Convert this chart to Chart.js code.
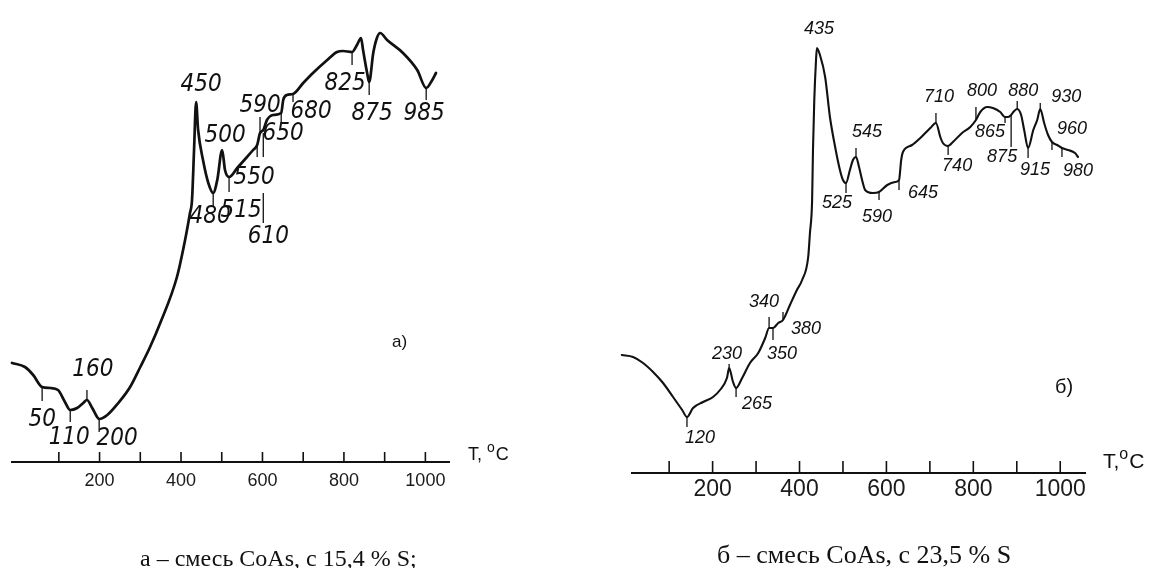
<!DOCTYPE html>
<html>
<head>
<meta charset="utf-8">
<script src="https://cdn.jsdelivr.net/npm/chart.js"></script>
<style>
    body { margin: 0; background: #fff; width: 1156px; height: 568px; overflow: hidden; position: relative; }
    canvas { position: absolute; top: 0; }
    #chartA { left: 0; }
    #chartB { left: 580px; }
    .caption { position: absolute; font-family: 'Liberation Serif', 'Times New Roman', serif; color: #111; white-space: nowrap; line-height: 1; }
    #capA { left: 140px; top: 546px; font-size: 24px; }
    #capB { left: 717px; top: 542px; font-size: 26px; }
</style>
</head>
<body>
<canvas id="chartA" width="560" height="568"></canvas>
<canvas id="chartB" width="576" height="568"></canvas>
<div class="caption" id="capA">а – смесь CoAs, с 15,4 % S;</div>
<div class="caption" id="capB">б – смесь CoAs, с 23,5 % S</div>
<script>
// DTA curves of CoAs mixtures
// temperature in °C, signal in arbitrary units (height above the T axis)

// axis ticks (both panels)
const tickMarks = [100, 200, 300, 400, 500, 600, 700, 800, 900, 1000];
const tickLabels = [200, 400, 600, 800, 1000];

// panel a) - 15,4 % S
const aTemp = [-15, 17, 37, 59, 79, 98, 115, 128, 145, 160, 169, 182, 194, 199, 219, 246, 275, 300, 324, 349,
    390, 410, 422, 427, 432, 437, 442, 454, 467, 479, 489, 501, 508, 518, 538, 562, 577, 587, 594, 602,
    611, 626, 646, 651, 660, 675, 700, 724, 759, 783, 798, 820, 832, 842, 847, 857, 862, 872, 881, 889,
    906, 945, 980, 1002, 1017, 1026];
const aSignal = [99, 95, 87, 75, 74, 72, 60, 52, 54, 59, 62, 54, 45, 43, 47, 59, 75, 95, 115, 139,
    185, 222, 249, 262, 312, 360, 332, 302, 279, 269, 282, 312, 292, 285, 294, 305, 312, 317, 329, 332,
    342, 347, 349, 362, 367, 368, 379, 389, 402, 410, 411, 410, 417, 424, 412, 389, 380, 409, 424, 429,
    422, 409, 392, 374, 382, 389];
const aMarkText = ['50', '110', '160', '200', '450', '480', '500', '515', '550', '590', '610', '650', '680', '825', '875', '985'];
const aMarkIdx = [3, 7, 10, 13, 25, 29, 31, 33, 37, 38, 39, 42, 45, 51, 56, 63];

// panel б) - 23,5 % S
const bTemp = [-9, 17, 40, 63, 86, 109, 130, 141, 155, 178, 201, 217, 233, 238, 247, 254, 268, 286, 305, 321,
    330, 339, 351, 362, 378, 394, 406, 420, 424, 429, 431, 434, 438, 440, 447, 459, 470, 482, 493, 500,
    507, 516, 523, 530, 537, 544, 551, 569, 583, 602, 620, 629, 634, 638, 659, 678, 701, 714, 724, 730,
    742, 753, 774, 793, 806, 816, 832, 845, 862, 873, 880, 887, 892, 901, 910, 917, 926, 938, 947, 954,
    963, 972, 981, 993, 1004, 1018, 1034, 1041];
const bSignal = [118, 116, 110, 101, 90, 76, 63, 56, 65, 71, 76, 83, 95, 105, 91, 85, 95, 110, 120, 135,
    145, 145, 150, 153, 168, 183, 193, 216, 240, 273, 323, 373, 413, 425, 418, 396, 356, 326, 303, 293,
    290, 303, 313, 316, 306, 293, 283, 280, 281, 288, 291, 293, 313, 321, 328, 335, 345, 350, 336, 330,
    327, 331, 340, 346, 353, 361, 366, 365, 361, 356, 356, 358, 361, 364, 358, 343, 325, 343, 353, 364,
    350, 338, 331, 328, 325, 323, 320, 316];
const bMarkText = ['120', '230', '265', '340', '350', '380', '435', '525', '545', '590', '645', '710', '740', '800',
    '865', '875', '880', '915', '930', '960', '980'];
const bMarkIdx = [7, 13, 15, 20, 21, 23, 33, 40, 43, 48, 51, 57, 60, 64, 69, 71, 73, 76, 79, 82, 84];

// where each leader line and number sits relative to its point: [segments, dx, dy] in px
const aMarkLayout = [
    [[[0, 14]], 0, 33], [[[0, 12]], -1, 28], [[[0, -10]], 6, -30], [[[0, 13]], 18, 20],
    [[], 5, -17], [[[0, 14]], -3, 24], [[], 3, -14], [[[0, 15]], 12, 34],
    [[[0, 12]], -3, 33], [[[0, -16]], 0, -27], [[[3, 27], [63, 93]], 5, 107], [[[0, 10]], 2, 21],
    [[[0, 8]], 18, 18], [[[0, 13]], -7, 32], [[[0, 13]], 3, 32], [[[0, 12]], -2, 26]
];
const bMarkLayout = [
    [[[0, 10]], 13, 21], [[[0, -4]], -2, -14], [[[0, 9]], 21, 16], [[[0, -11]], -5, -26],
    [[[0, 12]], 9, 26], [[[0, -8]], 23, 9], [[], 2, -19], [[[0, 10]], -9, 20],
    [[[0, -9]], 11, -25], [[[0, 8]], -2, 25], [[[0, 10]], 24, 13], [[[0, -10]], 3, -26],
    [[[0, 9]], 9, 20], [[[0, -13]], 6, -29], [[[0, 6]], -15, 15], [[[0, 32]], -9, 42],
    [[[0, -8]], 6, -18], [[[0, 10]], 7, 22], [[[0, -6]], 26, -12], [[[0, 8]], 20, -13],
    [[[0, 9]], 16, 23]
];

// draws the inward ticks, the peak numbers and the axis title
const dtaMarks = {
    id: 'dtaMarks',
    afterDraw(chart, args, o) {
        const { ctx, scales: { x, y } } = chart;
        const axisY = y.getPixelForValue(0);
        const line = (x1, y1, x2, y2) => {
            ctx.beginPath();
            ctx.moveTo(x1, y1);
            ctx.lineTo(x2, y2);
            ctx.stroke();
        };
        ctx.save();
        ctx.strokeStyle = '#111';
        ctx.fillStyle = '#111';

        ctx.lineWidth = 1.6;
        tickMarks.forEach(t => {
            const px = x.getPixelForValue(t);
            line(px, axisY, px, axisY - o.tickLen);
        });

        const pts = chart.data.datasets[0].data;
        ctx.font = o.markFont;
        ctx.textAlign = 'center';
        ctx.textBaseline = 'middle';
        ctx.lineWidth = 1.3;
        o.marks.forEach((txt, k) => {
            const p = pts[o.markIdx[k]];
            const px = x.getPixelForValue(p.x);
            const py = y.getPixelForValue(p.y);
            const [segs, dx, dy] = o.layout[k];
            segs.forEach(([s1, s2]) => line(px, py + s1, px, py + s2));
            ctx.fillText(txt, px + dx, py + dy);
        });

        // "T, °C"
        ctx.textAlign = 'left';
        ctx.textBaseline = 'alphabetic';
        let tx = x.right + o.titleDx;
        const ty = axisY + o.titleDy;
        ctx.font = o.titleSize + 'px "Liberation Sans", Arial, sans-serif';
        ctx.fillText(o.titleT, tx, ty);
        tx += ctx.measureText(o.titleT).width;
        ctx.font = Math.round(o.titleSize * 0.75) + 'px "Liberation Sans", Arial, sans-serif';
        ctx.fillText('o', tx, ty - o.titleSize * 0.45);
        tx += ctx.measureText('o').width + 1;
        ctx.font = o.titleSize + 'px "Liberation Sans", Arial, sans-serif';
        ctx.fillText('C', tx, ty);

        // panel letter
        ctx.font = o.panelFont;
        ctx.fillText(o.panel, x.right + o.panelDx, axisY + o.panelDy);
        ctx.restore();
    }
};

function makeChart(id, temps, signal, cfg) {
    return new Chart(document.getElementById(id), {
        type: 'line',
        data: {
            datasets: [{
                data: temps.map((t, i) => ({ x: t, y: signal[i] })),
                borderColor: '#111',
                borderWidth: cfg.lineWidth,
                pointRadius: 0,
                fill: false,
                clip: false,
                cubicInterpolationMode: 'monotone',
                borderJoinStyle: 'round',
                borderCapStyle: 'round'
            }]
        },
        options: {
            responsive: false,
            animation: false,
            events: [],
            layout: { padding: { left: cfg.padLeft, right: cfg.padRight, top: 0, bottom: 0 } },
            plugins: {
                legend: { display: false },
                tooltip: { enabled: false },
                dtaMarks: cfg.marks
            },
            scales: {
                x: {
                    type: 'linear',
                    min: cfg.xMin,
                    max: cfg.xMax,
                    afterBuildTicks: s => { s.ticks = tickLabels.map(v => ({ value: v })); },
                    afterFit: s => { s.height = cfg.axisHeight; },
                    grid: { display: false, drawTicks: false },
                    border: { display: true, color: '#111', width: 2 },
                    ticks: {
                        color: '#1a1a1a',
                        padding: cfg.tickPad,
                        maxRotation: 0,
                        autoSkip: false,
                        callback: v => String(v),
                        font: { family: '"Liberation Sans", Arial, sans-serif', size: cfg.tickSize }
                    }
                },
                y: { display: false, min: 0, max: cfg.yMax }
            }
        },
        plugins: [dtaMarks]
    });
}

makeChart('chartA', aTemp, aSignal, {
    lineWidth: 2.7, padLeft: 12, padRight: 111, xMin: -15, xMax: 1058,
    axisHeight: 106, yMax: 462, tickPad: 8, tickSize: 18,
    marks: {
        marks: aMarkText, markIdx: aMarkIdx, layout: aMarkLayout,
        markFont: 'italic 24px "Liberation Sans Narrow", "DejaVu Sans Condensed", sans-serif',
        tickLen: 10, titleT: 'T, ', titleSize: 18, titleDx: 19, titleDy: -2,
        panel: 'a)', panelFont: '17px "Liberation Sans", Arial, sans-serif', panelDx: -57, panelDy: -115
    }
});

makeChart('chartB', bTemp, bSignal, {
    lineWidth: 2.1, padLeft: 52, padRight: 71, xMin: 14.5, xMax: 1057,
    axisHeight: 95, yMax: 473, tickPad: 3, tickSize: 23,
    marks: {
        marks: bMarkText, markIdx: bMarkIdx, layout: bMarkLayout,
        markFont: 'italic 18px "Liberation Sans", Arial, sans-serif',
        tickLen: 12, titleT: 'T,', titleSize: 21, titleDx: 18, titleDy: -5,
        panel: 'б)', panelFont: '20px "Liberation Sans", Arial, sans-serif', panelDx: -30, panelDy: -80
    }
});
</script>
</body>
</html>
